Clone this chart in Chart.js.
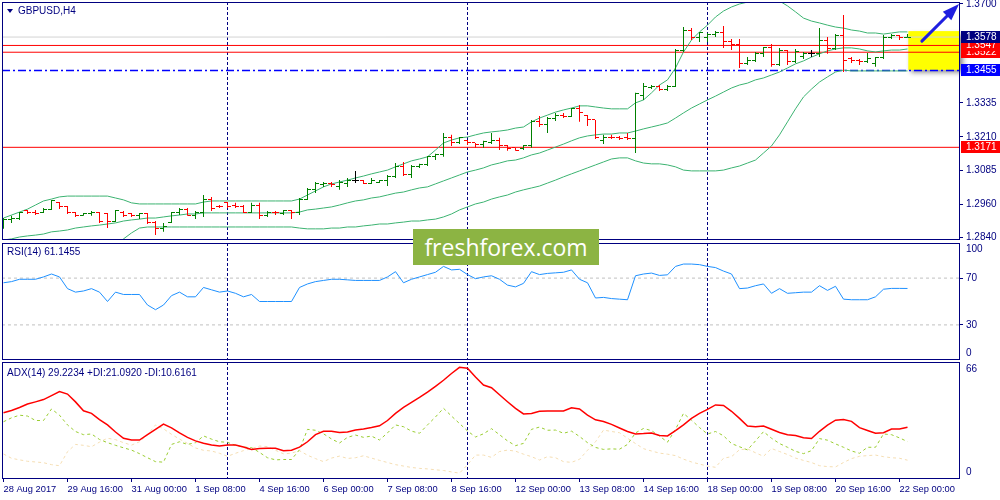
<!DOCTYPE html>
<html lang="en">
<head>
<meta charset="utf-8">
<title>GBPUSD,H4</title>
<script src="https://cdn.jsdelivr.net/npm/chart.js@4.4.1/dist/chart.umd.min.js"></script>
<style>
  html, body { margin: 0; padding: 0; background: #fff; }
  #board { position: relative; width: 1000px; height: 500px; overflow: hidden; }
  #board canvas { position: absolute; left: 0; }
  .caption { position: absolute; font: 10px "Liberation Sans", Arial, sans-serif; color: #000080; white-space: nowrap; line-height: 12px; }
  .tri { position: absolute; left: 7px; top: 9px; width: 0; height: 0; border-left: 3.5px solid transparent; border-right: 3.5px solid transparent; border-top: 4px solid #000080; }
  #logo { position: absolute; left: 413px; top: 229px; width: 186px; height: 36px; background: #8cb443; color: #fff; font: 23px "Open Sans", sans-serif; line-height: 36px; text-align: center; }
</style>
</head>
<body>
<div id="board">
  <canvas id="priceChart" width="1000" height="241" style="top:0"></canvas>
  <canvas id="rsiChart" width="1000" height="120" style="top:241px"></canvas>
  <canvas id="adxChart" width="1000" height="139" style="top:361px"></canvas>
  <div class="tri"></div>
  <div class="caption" style="left:18px; top:5px">GBPUSD,H4</div>
  <div class="caption" style="left:7px; top:246px">RSI(14) 61.1455</div>
  <div class="caption" style="left:7px; top:367px">ADX(14) 29.2234 +DI:21.0920 -DI:10.6161</div>
  <div id="logo">freshforex.com</div>
</div>
<script>
// H4 bars, 28 Aug 2017 08:00 -> 22 Sep 2017 04:00 (one entry per bar)
const opens = [1.2881,1.2903,1.2910,1.2936,1.2932,1.2929,1.2943,1.2966,1.2951,1.2929,
  1.2918,1.2925,1.2932,1.2925,1.2899,1.2932,1.2925,1.2918,1.2925,1.2892,
  1.2870,1.2895,1.2932,1.2943,1.2918,1.2929,1.2977,1.2954,1.2966,1.2958,
  1.2951,1.2932,1.2958,1.2921,1.2932,1.2925,1.2936,1.2929,1.2980,1.3017,
  1.3032,1.3039,1.3028,1.3039,1.3047,1.3047,1.3039,1.3043,1.3047,1.3065,
  1.3102,1.3069,1.3099,1.3106,1.3136,1.3143,1.3206,1.3187,1.3195,1.3187,
  1.3180,1.3187,1.3195,1.3176,1.3169,1.3165,1.3176,1.3268,1.3257,1.3279,
  1.3290,1.3283,1.3313,1.3287,1.3272,1.3198,1.3209,1.3209,1.3206,1.3202,
  1.3364,1.3390,1.3397,1.3383,1.3397,1.3530,1.3604,1.3575,1.3575,1.3586,
  1.3593,1.3560,1.3552,1.3482,1.3493,1.3519,1.3538,1.3475,1.3530,1.3486,
  1.3508,1.3519,1.3516,1.3567,1.3534,1.3582,1.3497,1.3493,1.3486,1.3482,
  1.3501,1.3578,1.3582,1.3575];
const highs = [1.2910,1.2918,1.2932,1.2940,1.2940,1.2947,1.2977,1.2969,1.2954,1.2932,
  1.2929,1.2936,1.2932,1.2929,1.2940,1.2936,1.2929,1.2929,1.2929,1.2899,
  1.2892,1.2932,1.2947,1.2947,1.2936,1.2995,1.2988,1.2958,1.2969,1.2966,
  1.2958,1.2966,1.2966,1.2936,1.2936,1.2940,1.2940,1.2984,1.3021,1.3043,
  1.3043,1.3043,1.3050,1.3058,1.3084,1.3050,1.3058,1.3050,1.3069,1.3113,
  1.3117,1.3106,1.3110,1.3139,1.3147,1.3224,1.3217,1.3209,1.3198,1.3187,
  1.3195,1.3224,1.3206,1.3180,1.3169,1.3180,1.3272,1.3287,1.3283,1.3298,
  1.3298,1.3316,1.3327,1.3290,1.3272,1.3217,1.3217,1.3213,1.3224,1.3372,
  1.3408,1.3401,1.3401,1.3401,1.3534,1.3615,1.3611,1.3597,1.3593,1.3600,
  1.3619,1.3571,1.3571,1.3504,1.3523,1.3541,1.3552,1.3538,1.3530,1.3534,
  1.3523,1.3530,1.3611,1.3578,1.3589,1.3659,1.3504,1.3497,1.3519,1.3504,
  1.3586,1.3589,1.3586,1.3589];
const lows = [1.2870,1.2892,1.2903,1.2925,1.2921,1.2929,1.2940,1.2943,1.2925,1.2914,
  1.2918,1.2918,1.2892,1.2873,1.2895,1.2914,1.2914,1.2906,1.2888,1.2847,
  1.2859,1.2892,1.2921,1.2918,1.2906,1.2914,1.2936,1.2947,1.2947,1.2947,
  1.2929,1.2929,1.2906,1.2914,1.2921,1.2921,1.2906,1.2921,1.2977,1.3002,
  1.3025,1.3025,1.3014,1.3025,1.3039,1.3036,1.3036,1.3039,1.3028,1.3058,
  1.3065,1.3058,1.3095,1.3102,1.3124,1.3136,1.3176,1.3183,1.3180,1.3169,
  1.3169,1.3183,1.3161,1.3158,1.3158,1.3161,1.3169,1.3246,1.3224,1.3268,
  1.3279,1.3283,1.3265,1.3250,1.3202,1.3183,1.3202,1.3198,1.3198,1.3150,
  1.3346,1.3386,1.3379,1.3379,1.3394,1.3523,1.3567,1.3560,1.3560,1.3578,
  1.3538,1.3530,1.3464,1.3475,1.3486,1.3504,1.3468,1.3471,1.3475,1.3482,
  1.3497,1.3504,1.3504,1.3516,1.3530,1.3449,1.3482,1.3475,1.3482,1.3468,
  1.3497,1.3571,1.3567,1.3575];
const closes = [1.2903,1.2910,1.2929,1.2929,1.2925,1.2943,1.2973,1.2951,1.2929,1.2918,
  1.2925,1.2932,1.2899,1.2899,1.2936,1.2921,1.2918,1.2925,1.2892,1.2870,
  1.2877,1.2932,1.2943,1.2921,1.2929,1.2977,1.2947,1.2951,1.2954,1.2951,
  1.2932,1.2958,1.2921,1.2932,1.2929,1.2936,1.2929,1.2980,1.3017,1.3039,
  1.3039,1.3032,1.3043,1.3050,1.3047,1.3039,1.3047,1.3047,1.3065,1.3102,
  1.3069,1.3099,1.3106,1.3136,1.3143,1.3206,1.3187,1.3206,1.3187,1.3180,
  1.3191,1.3195,1.3176,1.3165,1.3161,1.3176,1.3268,1.3257,1.3279,1.3290,
  1.3283,1.3313,1.3301,1.3272,1.3206,1.3209,1.3206,1.3202,1.3202,1.3368,
  1.3397,1.3397,1.3383,1.3397,1.3530,1.3604,1.3575,1.3593,1.3589,1.3593,
  1.3560,1.3549,1.3482,1.3493,1.3519,1.3538,1.3475,1.3530,1.3486,1.3523,
  1.3519,1.3519,1.3567,1.3534,1.3582,1.3493,1.3490,1.3486,1.3497,1.3501,
  1.3578,1.3582,1.3575,1.3578];

// Bollinger Bands
const bbUpper = [1.2910,1.2921,1.2932,1.2943,1.2958,1.2973,1.2980,1.2988,1.2991,1.2991,
  1.2991,1.2991,1.2991,1.2991,1.2984,1.2977,1.2966,1.2962,1.2962,1.2962,
  1.2962,1.2962,1.2962,1.2962,1.2962,1.2969,1.2973,1.2973,1.2973,1.2973,
  1.2973,1.2973,1.2973,1.2973,1.2973,1.2973,1.2973,1.2980,1.2995,1.3010,
  1.3025,1.3036,1.3043,1.3050,1.3058,1.3065,1.3073,1.3080,1.3087,1.3099,
  1.3110,1.3121,1.3128,1.3136,1.3161,1.3187,1.3198,1.3206,1.3209,1.3217,
  1.3224,1.3228,1.3231,1.3235,1.3242,1.3246,1.3265,1.3279,1.3290,1.3301,
  1.3309,1.3316,1.3324,1.3324,1.3320,1.3316,1.3313,1.3313,1.3313,1.3335,
  1.3346,1.3372,1.3401,1.3420,1.3464,1.3523,1.3567,1.3597,1.3622,1.3652,
  1.3674,1.3689,1.3700,1.3707,1.3715,1.3718,1.3718,1.3711,1.3693,1.3671,
  1.3648,1.3637,1.3630,1.3622,1.3615,1.3611,1.3604,1.3600,1.3593,1.3593,
  1.3589,1.3593,1.3597,1.3597];
const bbMiddle = [1.2829,1.2833,1.2840,1.2844,1.2847,1.2851,1.2859,1.2862,1.2866,1.2873,
  1.2877,1.2881,1.2884,1.2888,1.2892,1.2899,1.2903,1.2906,1.2910,1.2910,
  1.2914,1.2918,1.2921,1.2925,1.2925,1.2929,1.2929,1.2929,1.2929,1.2929,
  1.2929,1.2929,1.2929,1.2929,1.2929,1.2929,1.2929,1.2932,1.2940,1.2943,
  1.2947,1.2951,1.2958,1.2966,1.2973,1.2977,1.2984,1.2988,1.2995,1.3002,
  1.3006,1.3014,1.3021,1.3025,1.3036,1.3047,1.3058,1.3069,1.3080,1.3087,
  1.3095,1.3106,1.3113,1.3121,1.3124,1.3132,1.3143,1.3150,1.3161,1.3172,
  1.3183,1.3195,1.3206,1.3213,1.3217,1.3220,1.3220,1.3224,1.3224,1.3231,
  1.3239,1.3246,1.3253,1.3261,1.3279,1.3298,1.3316,1.3331,1.3346,1.3360,
  1.3375,1.3390,1.3401,1.3408,1.3420,1.3427,1.3438,1.3449,1.3464,1.3479,
  1.3490,1.3504,1.3516,1.3527,1.3534,1.3538,1.3538,1.3534,1.3527,1.3523,
  1.3527,1.3530,1.3530,1.3534];
const bbLower = [1.2748,1.2744,1.2741,1.2741,1.2737,1.2733,1.2733,1.2737,1.2741,1.2748,
  1.2759,1.2770,1.2781,1.2796,1.2810,1.2833,1.2855,1.2873,1.2877,1.2877,
  1.2877,1.2877,1.2877,1.2877,1.2877,1.2877,1.2877,1.2877,1.2877,1.2877,
  1.2877,1.2877,1.2877,1.2877,1.2877,1.2877,1.2877,1.2873,1.2870,1.2870,
  1.2870,1.2873,1.2873,1.2877,1.2877,1.2881,1.2884,1.2888,1.2888,1.2892,
  1.2895,1.2899,1.2899,1.2903,1.2906,1.2914,1.2925,1.2940,1.2951,1.2962,
  1.2969,1.2980,1.2988,1.2995,1.3006,1.3014,1.3021,1.3028,1.3039,1.3050,
  1.3062,1.3073,1.3084,1.3095,1.3106,1.3117,1.3128,1.3132,1.3132,1.3121,
  1.3113,1.3110,1.3110,1.3106,1.3099,1.3087,1.3084,1.3084,1.3084,1.3084,
  1.3087,1.3095,1.3102,1.3113,1.3124,1.3150,1.3176,1.3217,1.3265,1.3313,
  1.3357,1.3386,1.3412,1.3431,1.3449,1.3456,1.3453,1.3453,1.3453,1.3453,
  1.3453,1.3453,1.3453,1.3453];

// RSI(14)
const rsi = [66,67,69,69,69,71,73.5,71,61,58,
  59,61,58,50,58,56,56,56,47,43,
  47,55,58,54,54,62,60,58,59,57,
  54,56,50,50,50,50,50,62,65,67,
  68,69,69,68.5,68,68,68,68,71,75.5,
  66,69,71,73,75,80,77,77.5,73,69.5,
  71,72,69,64,62.5,65.5,75.5,73,74,74.5,
  75,77,69,66,53,53.5,52.5,52,51.5,72,
  73.5,74.3,72.3,72.8,80,82,82,81.5,80,79,
  76,73.5,61,61.5,63.5,65,57,61,57,57.5,
  58,58,63.5,59.5,63,52,51.5,51.5,51.5,54,
  60.5,61.2,61.2,61.1455];

// ADX(14), +DI, -DI
const adx = [37.4,38.6,40.3,42.3,43.5,44.8,47,49.3,47.9,43.5,
  38.5,37,33.5,30.5,26.5,23,22,22,25,28,
  31,28.8,26,23.5,21.5,20.2,19.2,18.6,19.2,19.2,
  18,16.7,17.2,17.3,17.3,16,16.2,18,21,25,
  26.9,27,26.3,26.5,27.6,28.2,29,30,33,37,
  40.4,43.2,46,49,52.3,55.7,59.5,63,62.5,57.5,
  53,51.5,47.5,43.6,39.8,36.7,37,38.2,38.4,38.4,
  38.4,40.2,39.5,36,33.4,32.4,30.8,28.8,26.8,25.4,
  25.6,26,24.6,24.3,27.3,30.5,34.2,37,39.3,41.8,
  41.5,38.2,34.2,29.9,29.5,29.9,28.1,26.2,25,24.5,
  23.3,22.8,26.9,30.4,33.2,33.5,32.5,29,27.4,25.8,
  26.1,28.2,28.2,29.2234];
const plusDI = [32.3,34.5,36,35.5,33,33,39.5,36,30.5,26.8,
  25,25.4,22.3,20.5,19,17.6,16.3,14.3,12,9.8,
  9.5,19.5,21,19.5,20.5,24.3,22.5,21,20.7,19,
  18,17.7,15,12,10.8,11,11,16.5,28,27.5,
  25.5,22.6,20.3,23.5,24.8,23.5,24.2,22,26,30.5,
  29.5,27,25.8,30.5,35,39.9,35.5,31.3,27.1,23.7,
  25.5,28.4,25,21.5,18.8,20.1,28,29.3,27.5,27.6,
  25.8,27,24,20.5,17.8,16.7,17,16.8,19.5,26,
  28.5,27.3,24.2,20.8,28,37,33.2,29,25.4,26.8,
  24.4,20,18.2,16.4,21.5,26.7,23,20,17.9,15.6,
  14.3,16,22.8,21.9,19.8,17.9,15.8,14.5,17.9,17.9,
  25.4,25,23.2,21.092];
const minusDI = [14.1,11.7,10.8,10,9.6,9.2,8.1,7.5,15.4,19.5,
  19,18.2,20.8,23,22.2,20.5,19.1,21,25,30.5,
  28.3,25.2,22.5,20.1,17.5,16.2,15.8,14.5,12.8,14.5,
  16,17.1,18.6,18.3,16.2,14.2,14.6,16,13.4,11.5,
  9.8,11.8,12.9,11.6,12,13.1,11.8,10.5,9.3,8.1,
  7.3,6.5,6,5.7,5.2,4.8,4,3.3,8,13.5,
  13.5,12.2,15.5,16.3,15.7,14,12.6,10.7,12.6,12,
  9.8,9.4,11.1,16.2,21,27.6,26.8,26.1,23,20,
  17.1,15.8,14.6,14,13.2,11.2,9.6,8.4,7.3,6.6,
  11.7,12.6,16.5,17,14.8,12.8,17.2,15.5,13.8,11.8,
  10.5,9.3,7.5,7,6.8,9.3,11.5,12.8,13.2,13.5,
  12.6,12,11.7,10.616];

// axis labels and levels
const tickBars = [0, 8, 16, 24, 32, 40, 48, 56, 64, 72, 80, 88, 96, 104, 112];
const tickLabels = ['28 Aug 2017', '29 Aug 16:00', '31 Aug 00:00', '1 Sep 08:00', '4 Sep 16:00',
  '6 Sep 00:00', '7 Sep 08:00', '8 Sep 16:00', '12 Sep 00:00', '13 Sep 08:00', '14 Sep 16:00',
  '18 Sep 00:00', '19 Sep 08:00', '20 Sep 16:00', '22 Sep 00:00'];
const weekStarts = [28, 58, 88];
const priceTicks = [1.2840, 1.2960, 1.3085, 1.3210, 1.3335, 1.3700];
const priceRange = [1.282893, 1.370738];
const levelPrices = [1.3547, 1.3522, 1.3455, 1.3171];
const bidPrice = 1.3578;
const rsiRange = [0, 100];
const rsiLevels = [70, 30];
const adxRange = [0, 66];

// ---- look ----
const NAVY = '#000080', BULL = '#008000', BEAR = '#ff0000', DOJI = '#000000';
const BB = '#3cb371';
const FONT = { family: '"Liberation Sans", Arial, sans-serif', size: 10 };
const XFONT = { family: FONT.family, size: 9.3 };
const xMin = -0.1875, xMax = 119.5625;
const levelStyle = [
  { color: BEAR, width: 1, dash: [] },
  { color: BEAR, width: 1, dash: [] },
  { color: '#0000ff', width: 1.5, dash: [8, 3, 2, 3] },
  { color: BEAR, width: 1, dash: [] }
];
const zone = { fromBar: 113.1, toBar: xMax, top: 1.3600, bottom: 1.3456 };
const arrow = { fromBar: 114.8, fromPrice: 1.3563, toBar: 119.45, toPrice: 1.3700 };

Chart.defaults.font.family = FONT.family;

const series = arr => arr.map((v, i) => ({ x: i, y: v }));
const flatLine = v => [{ x: xMin, y: v }, { x: xMax, y: v }];
const candleColor = i => closes[i] > opens[i] ? BULL : (closes[i] < opens[i] ? BEAR : DOJI);

const tickCache = {};
function tickMark(color, side) {
  const key = color + side;
  if (!tickCache[key]) {
    const c = document.createElement('canvas');
    c.width = 7; c.height = 1;
    const g = c.getContext('2d');
    g.fillStyle = color;
    g.fillRect(side === 'open' ? 0 : 4, 0, 3, 1);
    tickCache[key] = c;
  }
  return tickCache[key];
}

function xAxis(visible) {
  const s = {
    type: 'linear', display: visible, min: xMin, max: xMax, bounds: 'data', offset: false,
    afterBuildTicks: sc => { sc.ticks = tickBars.map(v => ({ value: v })); },
    grid: { drawOnChartArea: false, drawTicks: true, tickLength: 3, color: NAVY },
    border: { display: false },
    ticks: { autoSkip: false, maxRotation: 0, minRotation: 0, align: 'start', padding: 2,
      color: NAVY, font: XFONT, callback: (v, i) => tickLabels[i] }
  };
  if (visible) s.afterFit = sc => { sc.height = 21; sc.paddingLeft = 0; sc.paddingRight = 0; };
  return s;
}

function yAxis(range, ticks, fmt) {
  return {
    type: 'linear', position: 'right', min: range[0], max: range[1], bounds: 'data',
    afterBuildTicks: sc => { sc.ticks = ticks.map(v => ({ value: v })); },
    afterFit: sc => { sc.width = 40; sc.paddingTop = 0; sc.paddingBottom = 0; },
    grid: { drawOnChartArea: false, drawTicks: true, tickLength: 3, color: NAVY },
    border: { display: false },
    ticks: { display: ticks.length > 0, padding: 3, color: NAVY, font: FONT, callback: fmt }
  };
}

function baseOptions(padding) {
  return {
    responsive: false, animation: false, devicePixelRatio: 1, events: [],
    layout: { padding, autoPadding: false },
    plugins: { legend: { display: false }, tooltip: { enabled: false } }
  };
}

// week separators + panel frame
const panelFrame = {
  id: 'panelFrame',
  beforeDatasetsDraw(chart) {
    const { ctx, chartArea: a, scales: { x } } = chart;
    ctx.save();
    ctx.strokeStyle = NAVY; ctx.lineWidth = 1; ctx.setLineDash([3, 2]);
    weekStarts.forEach(b => {
      const px = x.getPixelForValue(b);
      ctx.beginPath(); ctx.moveTo(px, a.top); ctx.lineTo(px, a.bottom); ctx.stroke();
    });
    ctx.restore();
  },
  afterDraw(chart) {
    const { ctx, chartArea: a } = chart;
    ctx.save();
    ctx.strokeStyle = NAVY; ctx.lineWidth = 1;
    ctx.strokeRect(a.left + 0.5, a.top + 0.5, a.width - 1, a.height - 1);
    ctx.restore();
  }
};

const edgeLabels = items => ({
  id: 'edgeLabels',
  afterDraw(chart) {
    const { ctx, scales: { y } } = chart;
    ctx.save();
    ctx.font = FONT.size + 'px ' + FONT.family;
    ctx.fillStyle = NAVY; ctx.textBaseline = 'middle';
    items.forEach(it => ctx.fillText(String(it.value), y.left + 6, y.getPixelForValue(it.value) + it.dy));
    ctx.restore();
  }
});

const priceExtras = {
  id: 'priceExtras',
  beforeDatasetsDraw(chart) {
    const { ctx, scales: { x, y } } = chart;
    const l = x.getPixelForValue(zone.fromBar), r = x.getPixelForValue(zone.toBar);
    const t = y.getPixelForValue(zone.top), b = y.getPixelForValue(zone.bottom);
    ctx.save();
    ctx.shadowColor = 'rgba(0,0,0,0.45)'; ctx.shadowBlur = 5;
    ctx.shadowOffsetX = 3; ctx.shadowOffsetY = 3;
    ctx.fillStyle = '#ffff00';
    ctx.fillRect(l, t, r - l, b - t);
    ctx.restore();
    ctx.imageSmoothingEnabled = false;
  },
  afterDatasetsDraw(chart) {
    const { ctx, scales: { x, y } } = chart;
    const x0 = x.getPixelForValue(arrow.fromBar), y0 = y.getPixelForValue(arrow.fromPrice);
    const x1 = x.getPixelForValue(arrow.toBar), y1 = y.getPixelForValue(arrow.toPrice);
    const ang = Math.atan2(y1 - y0, x1 - x0), cos = Math.cos(ang), sin = Math.sin(ang);
    const head = 17, half = 6;
    ctx.save();
    ctx.strokeStyle = ctx.fillStyle = '#1f1fe0';
    ctx.lineWidth = 3; ctx.lineCap = 'round';
    ctx.beginPath(); ctx.moveTo(x0, y0); ctx.lineTo(x1 - head * cos, y1 - head * sin); ctx.stroke();
    ctx.beginPath();
    ctx.moveTo(x1, y1);
    ctx.lineTo(x1 - head * cos + half * sin, y1 - head * sin - half * cos);
    ctx.lineTo(x1 - head * cos - half * sin, y1 - head * sin + half * cos);
    ctx.closePath(); ctx.fill();
    ctx.restore();
  },
  afterDraw(chart) {
    const { ctx, scales: { y } } = chart;
    const tags = [
      { value: levelPrices[1], bg: BEAR }, { value: levelPrices[0], bg: BEAR },
      { value: bidPrice, bg: NAVY }, { value: levelPrices[2], bg: '#0000ff' },
      { value: levelPrices[3], bg: BEAR }
    ];
    ctx.save();
    ctx.font = FONT.size + 'px ' + FONT.family;
    ctx.textBaseline = 'middle';
    tags.forEach(t => {
      const py = y.getPixelForValue(t.value);
      ctx.fillStyle = t.bg;
      ctx.fillRect(y.left + 1, Math.round(py) - 6, y.right - y.left - 1, 12);
      ctx.fillStyle = '#ffffff';
      ctx.fillText(t.value.toFixed(4), y.left + 6, py);
    });
    ctx.restore();
  }
};

// ---- price panel ----
new Chart(document.getElementById('priceChart'), {
  type: 'line',
  data: {
    datasets: [
      { data: series(opens), showLine: false, pointRadius: 1, order: 0,
        pointStyle: c => c.dataIndex === undefined ? 'line' : tickMark(candleColor(c.dataIndex), 'open') },
      { data: series(closes), showLine: false, pointRadius: 1, order: 0,
        pointStyle: c => c.dataIndex === undefined ? 'line' : tickMark(candleColor(c.dataIndex), 'close') },
      { type: 'bar', data: highs.map((h, i) => ({ x: i, y: [lows[i], h] })), order: 1,
        backgroundColor: c => candleColor(c.dataIndex), barThickness: 1, inflateAmount: 0, borderWidth: 0 },
      { data: series(bbUpper), borderColor: BB, borderWidth: 1, pointRadius: 0, order: 2 },
      { data: series(bbMiddle), borderColor: BB, borderWidth: 1, pointRadius: 0, order: 2 },
      { data: series(bbLower), borderColor: BB, borderWidth: 1, pointRadius: 0, order: 2 },
      ...levelPrices.map((p, k) => ({ data: flatLine(p), borderColor: levelStyle[k].color,
        borderWidth: levelStyle[k].width, borderDash: levelStyle[k].dash, pointRadius: 0, order: 3 })),
      { data: flatLine(bidPrice), borderColor: '#d3d3d3', borderWidth: 1, pointRadius: 0, order: 4 }
    ]
  },
  options: Object.assign(baseOptions({ left: 2, top: 2, right: 0, bottom: 1 }), {
    scales: { x: xAxis(false), y: yAxis(priceRange, priceTicks, v => v.toFixed(4)) }
  }),
  plugins: [panelFrame, priceExtras]
});

// ---- RSI panel ----
new Chart(document.getElementById('rsiChart'), {
  type: 'line',
  data: {
    datasets: [
      { data: series(rsi), borderColor: '#1e90ff', borderWidth: 1, pointRadius: 0, order: 0 },
      ...rsiLevels.map(v => ({ data: flatLine(v), borderColor: '#c0c0c0', borderWidth: 1,
        borderDash: [3, 3], pointRadius: 0, order: 1 }))
    ]
  },
  options: Object.assign(baseOptions({ left: 2, top: 2, right: 0, bottom: 1 }), {
    scales: { x: xAxis(false), y: yAxis(rsiRange, rsiLevels, v => String(v)) }
  }),
  plugins: [panelFrame, edgeLabels([{ value: rsiRange[1], dy: 6 }, { value: rsiRange[0], dy: -7 }])]
});

// ---- ADX panel ----
new Chart(document.getElementById('adxChart'), {
  type: 'line',
  data: {
    datasets: [
      { data: series(adx), borderColor: '#ff0000', borderWidth: 1.5, pointRadius: 0 },
      { data: series(plusDI), borderColor: '#9acd32', borderWidth: 1, borderDash: [3, 3], pointRadius: 0 },
      { data: series(minusDI), borderColor: '#f5deb3', borderWidth: 1, borderDash: [3, 3], pointRadius: 0 }
    ]
  },
  options: Object.assign(baseOptions({ left: 2, top: 1, right: 0, bottom: 0 }), {
    scales: { x: xAxis(true), y: yAxis(adxRange, [], v => String(v)) }
  }),
  plugins: [panelFrame, edgeLabels([{ value: adxRange[1], dy: 7 }, { value: adxRange[0], dy: -7 }])]
});
</script>
</body>
</html>
